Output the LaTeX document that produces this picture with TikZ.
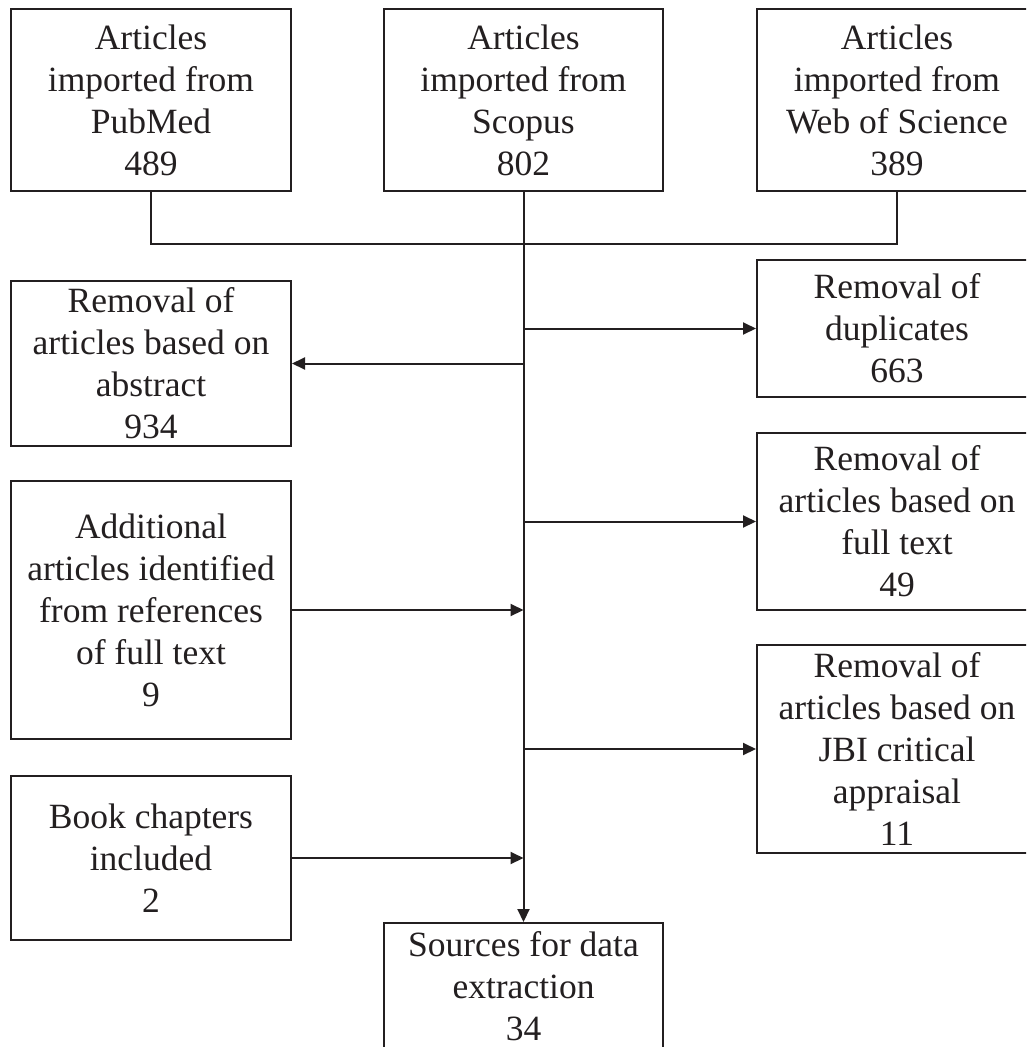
\documentclass[tikz,border=0pt]{standalone}
\usepackage{fontspec}
\setmainfont{Liberation Serif}
\usetikzlibrary{arrows.meta}
\definecolor{ink}{RGB}{35,31,32}
\begin{document}
\begin{tikzpicture}[x=1pt,y=-1pt,
  box/.style={draw=ink, line width=2pt, rectangle, inner sep=0pt, align=center,
    text=ink, font=\fontsize{35.5}{42}\selectfont, minimum width=280pt},
  link/.style={draw=ink, line width=2pt},
  arr/.style={link, -{Triangle[length=13pt,width=12pt]}}]
\useasboundingbox (0,0) rectangle (1026,1047);
\clip (0,0) rectangle (1026,1047);
\fill[white] (0,0) rectangle (1026,1047);
% top sources
\node[box, minimum height=182pt] (pub) at (151,100) {Articles\\imported from\\PubMed\\489};
\node[box, minimum height=182pt, minimum width=279pt] (sco) at (523.5,100) {Articles\\imported from\\Scopus\\802};
\node[box, minimum height=182pt] (wos) at (897,100) {Articles\\imported from\\Web of Science\\389};
% left column
\node[box, minimum height=165pt] (abs) at (151,363.5) {Removal of\\articles based on\\abstract\\934};
\node[box, minimum height=258pt] (add) at (151,610) {Additional\\articles identified\\from references\\of full text\\9};
\node[box, minimum height=164pt] (book) at (151,858) {Book chapters\\included\\2};
% right column
\node[box, minimum height=137pt] (dup) at (897,328.5) {Removal of\\duplicates\\663};
\node[box, minimum height=177pt] (ful) at (897,521.5) {Removal of\\articles based on\\full text\\49};
\node[box, minimum height=208pt] (jbi) at (897,749) {Removal of\\articles based on\\JBI critical\\appraisal\\11};
% bottom
\node[box, minimum height=126pt, minimum width=279pt] (src) at (523.5,986) {Sources for data\\extraction\\34};
% joins
\coordinate (j) at (523.5,244);
\draw[link] (pub.south) |- (wos.south |- j) -- (wos.south);
\draw[arr] (sco.south) -- (src.north);
% branches
\draw[arr] (sco.south |- dup.west) -- (dup.west);
\draw[arr] (sco.south |- abs.east) -- (abs.east);
\draw[arr] (sco.south |- ful.west) -- (ful.west);
\draw[arr] (add.east) -- (sco.south |- add.east);
\draw[arr] (sco.south |- jbi.west) -- (jbi.west);
\draw[arr] (book.east) -- (sco.south |- book.east);
\end{tikzpicture}
\end{document}
